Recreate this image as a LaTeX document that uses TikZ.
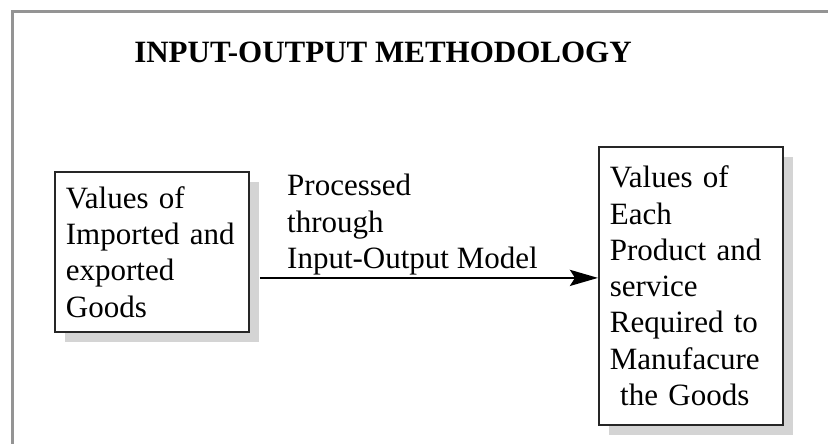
\documentclass[tikz,border=0pt]{standalone}
\usepackage{fontspec}
\setmainfont{Liberation Serif}
\usetikzlibrary{arrows.meta,shadows}

\begin{document}
\begin{tikzpicture}[x=1pt,y=-1pt]
  \newcommand{\bigtext}{\fontsize{31}{36.3}\selectfont}
  \tikzset{BoxStyle/.style={draw=black!85,line width=1.8pt,fill=white,align=left,
      inner xsep=11pt,anchor=north west,font=\bigtext,
      drop shadow={shadow xshift=10pt,shadow yshift=-10pt,fill=black!17,opacity=1}}}
  \tikzset{FlowStyle/.style={line width=2.8pt,-{Stealth[length=28pt,width=16pt,inset=5pt]}}}
  \useasboundingbox (0,0) rectangle (828,444);
  % frame
  \draw[black!42,line width=3pt] (12,444) -- (12,12) -- (828,12);
  \node[font=\bfseries\bigtext,anchor=base] (title) at (383,63) {INPUT-OUTPUT METHODOLOGY};
  \node[BoxStyle,text width=172pt,minimum height=160pt] (goods) at (54,171)
    {Values of\\Imported and\\exported\\Goods};
  \node[BoxStyle,text width=162pt,minimum height=278pt] (values) at (598,146)
    {Values of\\Each\\Product and\\service\\Required to\\Manufacure\\\ the Goods};
  \node[font=\bigtext,align=left,inner sep=0pt,anchor=north west] (model) at (287,174)
    {Processed\\through\\Input-Output Model};
  \draw[FlowStyle] ([xshift=10pt,yshift=-26pt]goods.east) -- ([yshift=-26pt]goods.east -| values.west);
\end{tikzpicture}
\end{document}
